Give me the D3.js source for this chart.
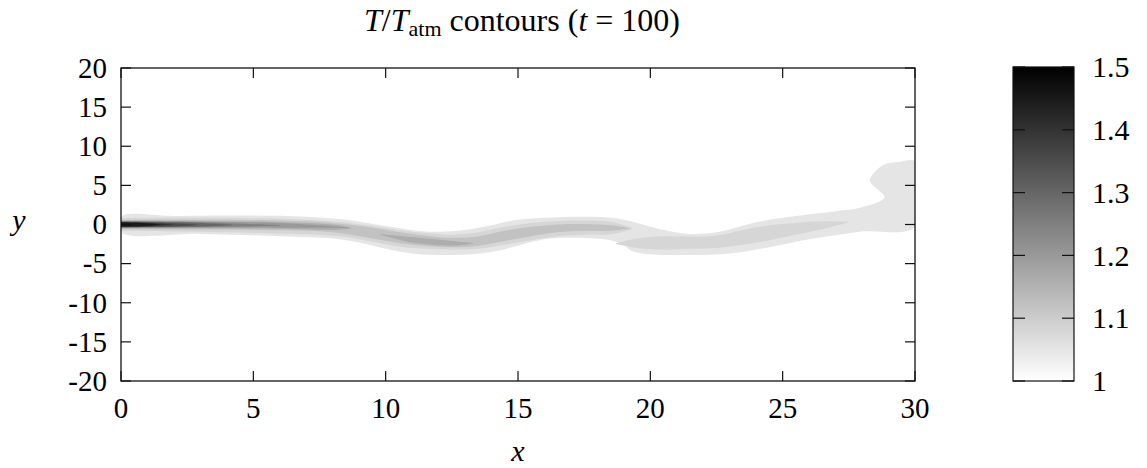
<!DOCTYPE html>
<html><head><meta charset="utf-8">
<script src="https://cdn.jsdelivr.net/npm/d3@7"></script>
<style>body{margin:0;background:#fff}svg text{font-family:"Liberation Serif","DejaVu Serif","Times New Roman",serif;fill:#000}</style>
</head><body>
<svg id="c" width="1147" height="468"></svg>
<script>
// ---- data ----
const xTicks = [0, 5, 10, 15, 20, 25, 30];
const yTicks = [-20, -15, -10, -5, 0, 5, 10, 15, 20];
const cbTicks = [1, 1.1, 1.2, 1.3, 1.4, 1.5];
const cbTickLabels = ["1", "1.1", "1.2", "1.3", "1.4", "1.5"];

// outermost contour band (T/Tatm >= 1.05) as closed polygon [x, y]
const band105 = [
  [0,1.0],[2,1.1],[5,1.15],[7,1.0],[8.5,0.6],[10,-0.2],[11.5,-0.9],[13,-0.7],[14,-0.1],[14.8,0.5],
  [16,0.85],[17.5,1.0],[18.7,0.8],[19.5,0.2],[20.5,-0.7],[21.5,-1.2],[22.5,-1.0],[24,0.3],[25.5,1.1],
  [27,1.7],[28.0,2.2],[28.85,3.5],[28.3,5.6],[28.8,7.6],[29.4,8.0],[30,8.05],[30,-0.3],[28,-0.9],
  [26,-1.9],[24.5,-2.9],[23,-3.7],[21.5,-3.9],[20,-3.8],[19.3,-3.4],[19.0,-2.6],[18.5,-2.0],[17,-1.7],
  [16,-1.9],[15,-2.7],[14,-3.5],[12.5,-3.9],[11,-3.7],[10,-3.1],[9,-2.3],[8,-1.8],[6,-1.5],[3,-1.2],[0,-1.0]
];
// inner bands as stations [x, yTop, yBottom]
const band108a = [[0,0.8,-0.8],[2,0.85,-0.9],[4,0.85,-1.0],[6,0.75,-1.15],[7.5,0.55,-1.3],[8.5,0.25,-1.6],
  [9.5,-0.2,-2.2],[10.5,-0.7,-2.8],[11.5,-1.1,-3.1],[12.5,-1.3,-3.2],[13.5,-1.0,-3.1],[14.5,-0.3,-2.6],
  [15.5,0.2,-2.0],[16.5,0.45,-1.5],[17.5,0.5,-1.3],[18.5,0.35,-1.25],[19.3,-0.4,-0.6]];
const band108b = [[18.7,-2.4,-2.5],[19.5,-1.8,-3.0],[20.5,-1.5,-3.2],[21.5,-1.55,-3.1],[22.5,-1.4,-3.0],
  [23.5,-0.7,-2.6],[24.5,-0.1,-2.0],[25.5,0.2,-1.3],[26.5,0.4,-0.6],[27.5,0.32,0.28]];
const band112 = [[0,0.6,-0.6],[3,0.6,-0.65],[6,0.5,-0.75],[8,0.2,-1.0],[9.5,-0.4,-1.8],[11,-1.2,-2.6],
  [12.5,-1.7,-2.9],[13.5,-1.5,-2.7],[14.5,-0.8,-2.1],[15.5,-0.3,-1.5],[16.5,0.0,-1.0],[17.5,0.05,-0.8],
  [18.5,-0.1,-0.8],[19.2,-0.45,-0.55]];
const band116a = [[0,0.5,-0.5],[3,0.45,-0.5],[6,0.3,-0.55],[8,0.0,-0.7],[8.7,-0.4,-0.5]];
const band116b = [[9.8,-1.2,-1.3],[11,-1.6,-2.3],[12.5,-2.1,-2.7],[13.3,-2.35,-2.45]];
const band120 = [[0,0.45,-0.45],[3,0.35,-0.4],[6,0.2,-0.4],[8.6,-0.35,-0.4]];
const band125 = [[0,0.38,-0.38],[3,0.3,-0.33],[6.0,-0.1,-0.15]];
const band130 = [[0,0.35,-0.35],[2.5,0.25,-0.3],[4.2,-0.03,-0.08]];
const band135 = [[0,0.33,-0.33],[1.8,0.2,-0.25],[2.9,0.0,-0.05]];
const band140 = [[0,0.3,-0.3],[1.2,0.2,-0.22],[2.0,0.0,-0.03]];
const band145 = [[0,0.25,-0.25],[0.9,0.17,-0.18],[1.5,0.0,-0.02]];

const bandLevels = [1.08, 1.08, 1.12, 1.16, 1.16, 1.2, 1.25, 1.3, 1.35, 1.4, 1.45];
const bandList = [band108a, band108b, band112, band116a, band116b, band120, band125, band130, band135, band140, band145];

// ---- drawing ----
const svg = d3.select("#c");
const L = 121, R = 915, T = 68, B = 381;
const x = d3.scaleLinear().domain([0, 30]).range([L, R]);
const y = d3.scaleLinear().domain([-20, 20]).range([B, T]);
const gray = d3.scaleLinear().domain([1, 1.5]).range(["#ffffff", "#000000"]);

svg.append("clipPath").attr("id", "clip").append("rect")
  .attr("x", L).attr("y", T).attr("width", R - L).attr("height", B - T);
const g = svg.append("g").attr("clip-path", "url(#clip)");

g.append("path").datum(band105)
  .attr("d", d3.line().x(d => x(d[0])).y(d => y(d[1])).curve(d3.curveCatmullRomClosed.alpha(0.5)))
  .attr("fill", gray(1.05));

const area = d3.area().x(d => x(d[0])).y0(d => y(d[2])).y1(d => y(d[1])).curve(d3.curveCatmullRom.alpha(0.5));
bandList.forEach((b, i) => {
  g.append("path").datum(b).attr("d", area).attr("fill", gray(bandLevels[i]));
});

// frame
svg.append("rect").attr("x", L).attr("y", T).attr("width", R - L).attr("height", B - T)
  .attr("fill", "none").attr("stroke", "#111").attr("stroke-width", 1.3);

const tl = 10;
const ax = svg.append("g").attr("stroke", "#111").attr("stroke-width", 1.2);
xTicks.forEach(v => {
  ax.append("line").attr("x1", x(v)).attr("x2", x(v)).attr("y1", B).attr("y2", B - tl);
  ax.append("line").attr("x1", x(v)).attr("x2", x(v)).attr("y1", T).attr("y2", T + tl);
});
yTicks.forEach(v => {
  ax.append("line").attr("x1", L).attr("x2", L + tl).attr("y1", y(v)).attr("y2", y(v));
  ax.append("line").attr("x1", R).attr("x2", R - tl).attr("y1", y(v)).attr("y2", y(v));
});
const fs = 29;
svg.append("g").selectAll("text").data(xTicks).join("text")
  .attr("x", d => x(d)).attr("y", 418).attr("text-anchor", "middle").attr("font-size", fs).text(d => d);
svg.append("g").selectAll("text").data(yTicks).join("text")
  .attr("x", 107).attr("y", d => y(d)).attr("dy", "0.34em").attr("text-anchor", "end").attr("font-size", fs).text(d => d);

svg.append("text").attr("x", 518).attr("y", 461).attr("text-anchor", "middle")
  .attr("font-size", fs + 1).attr("font-style", "italic").text("x");
svg.append("text").attr("x", 19).attr("y", 224).attr("dy", "0.2em").attr("text-anchor", "middle")
  .attr("font-size", fs + 1).attr("font-style", "italic").text("y");

// title
const title = svg.append("text").attr("x", 522).attr("y", 31).attr("text-anchor", "middle")
  .attr("font-size", 32);
title.append("tspan").attr("font-style", "italic").text("T");
title.append("tspan").text("/");
title.append("tspan").attr("font-style", "italic").text("T");
title.append("tspan").attr("font-size", 22).attr("dy", 5).text("atm");
title.append("tspan").attr("dy", -5).text(" contours (");
title.append("tspan").attr("font-style", "italic").text("t");
title.append("tspan").text(" = 100)");

// colorbar
const cL = 1013, cR = 1074, cT = 67, cB = 381;
const cy = d3.scaleLinear().domain([1, 1.5]).range([cB, cT]);
const grad = svg.append("defs").append("linearGradient").attr("id", "gr")
  .attr("x1", 0).attr("y1", 1).attr("x2", 0).attr("y2", 0);
grad.append("stop").attr("offset", 0).attr("stop-color", gray(1));
grad.append("stop").attr("offset", 1).attr("stop-color", gray(1.5));
svg.append("rect").attr("x", cL).attr("y", cT).attr("width", cR - cL).attr("height", cB - cT)
  .attr("fill", "url(#gr)").attr("stroke", "#111").attr("stroke-width", 1.2);
const cbax = svg.append("g").attr("stroke", "#111").attr("stroke-width", 1.2);
cbTicks.forEach(v => {
  cbax.append("line").attr("x1", cL).attr("x2", cL + 12).attr("y1", cy(v)).attr("y2", cy(v));
  cbax.append("line").attr("x1", cR).attr("x2", cR - 12).attr("y1", cy(v)).attr("y2", cy(v));
});
svg.append("g").selectAll("text").data(cbTicks).join("text")
  .attr("x", 1092).attr("y", d => cy(d)).attr("dy", "0.34em").attr("font-size", fs + 1)
  .text((d, i) => cbTickLabels[i]);
</script>
</body></html>
